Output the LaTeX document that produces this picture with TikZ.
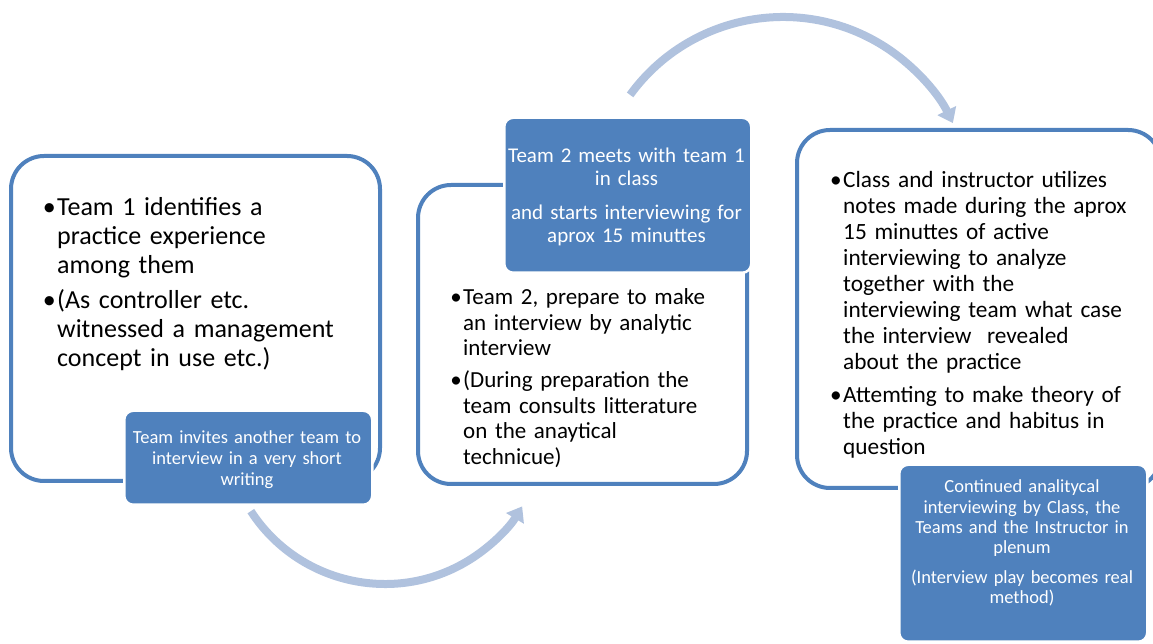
\documentclass[tikz,border=0pt]{standalone}
\usepackage{fontspec}
\setmainfont{Carlito}
\usetikzlibrary{arrows.meta,calc}
\definecolor{accent}{HTML}{4F81BD}
\definecolor{flowblue}{HTML}{B0C2DE}
\newcommand\bulletmark{\leavevmode\llap{•\hspace{1.5pt}}}
\begin{document}
\begin{tikzpicture}[x=1pt,y=1pt,
  frame/.style={draw=accent, line width=4pt, rounded corners=33pt, fill=white, inner sep=0pt, anchor=south west},
  tag/.style={fill=accent, draw=white, line width=2.5pt, rounded corners=9pt, inner sep=0pt, anchor=south west},
  flow/.style={draw=flowblue, line width=8pt, -{Triangle[width=20pt,length=14pt]}},
  body/.style={inner sep=0pt, anchor=base west, align=left, text=black, text width=330pt},
  tagtext/.style={inner sep=0pt, anchor=base, align=center, text=white, text width=260pt},
]
\clip (0,0) rectangle (1153,644);

% curved process arrows
\coordinate (lowarc) at (385,220);
\coordinate (higharc) at (783,438);
\draw[flow] ($(lowarc)+(213:160)$) arc[start angle=213, end angle=329, radius=160];
\draw[flow] ($(higharc)+(144:189)$) arc[start angle=144, end angle=26, radius=189];

% outlined step boxes
\node[frame, minimum width=369pt, minimum height=325pt] (box1) at (9,161) {};
\node[frame, minimum width=329pt, minimum height=299pt] (box2) at (416,158) {};
\node[frame, minimum width=364pt, minimum height=358pt] (box3) at (795,154) {};

% filled labels
\node[tag, minimum width=248pt, minimum height=94pt] (tag1) at (123,138) {};
\node[tag, minimum width=247pt, minimum height=155pt] (tag2) at (503,370) {};
\node[tag, minimum width=248pt, minimum height=177pt] (tag3) at (898,1) {};

% step texts
\node[body, font=\fontsize{26}{29}\selectfont] (t1) at (57,428)
  {\bulletmark Team 1 identifies a\\practice experience\\among them\\[6pt]
   \bulletmark (As controller etc.\\witnessed a management\\concept in use etc.)};
\node[body, font=\fontsize{23}{25.5}\selectfont] (t2) at (463,339)
  {\bulletmark Team 2, prepare to make\\an interview by analytic\\interview\\[6.5pt]
   \bulletmark (During preparation the\\team consults litterature\\on the anaytical\\technicue)};
\node[body, font=\fontsize{23.3}{26}\selectfont] (t3) at (843,456)
  {\bulletmark Class and instructor utilizes\\notes made during the aprox\\15 minuttes of active\\interviewing to analyze\\together with the\\interviewing team what case\\the interview\ \ revealed\\about the practice\\[7pt]
   \bulletmark Attemting to make theory of\\the practice and habitus in\\question};

\node[tagtext, font=\fontsize{18.5}{21}\selectfont] (l1) at (247,200)
  {Team invites another team to\\interview in a very short\\writing};
\node[tagtext, font=\fontsize{21}{23}\selectfont] (l2) at (626.5,481)
  {Team 2 meets with team 1\\in class\\[11pt]and starts interviewing for\\aprox 15 minuttes};
\node[tagtext, font=\fontsize{18.5}{20.3}\selectfont] (l3) at (1022,151)
  {Continued analitycal\\interviewing by Class, the\\Teams and the Instructor in\\plenum\\[9pt](Interview play becomes real\\method)};
\end{tikzpicture}
\end{document}
